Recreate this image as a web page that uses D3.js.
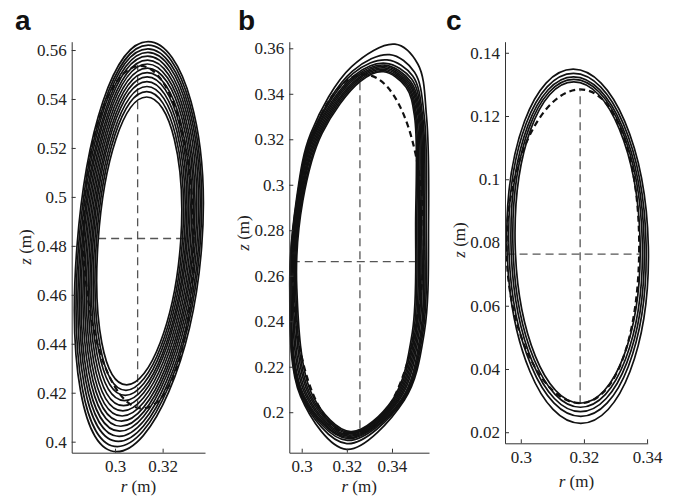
<!DOCTYPE html>
<html><head><meta charset="utf-8">
<script src="https://cdn.jsdelivr.net/npm/d3@7"></script>
<style>
body{margin:0;background:#fff}
text{font-family:"Liberation Serif","Times New Roman",Times,serif}
text.letter{font-family:"Liberation Sans",Arial,Helvetica,sans-serif;font-weight:bold}
</style>
</head><body>
<svg id="chart" width="684" height="496"></svg>
<script>
// ---------- Panel a : 14 loops (inner -> outer): top, bottom and mid-height side points ----------
const aTopR   = [0.3133,0.3133,0.3134,0.3134,0.3135,0.3135,0.3136,0.3136,0.3137,0.3137,0.3138,0.3138,0.3139,0.3139];
const aTopZ   = [0.5408,0.5430,0.5451,0.5471,0.5490,0.5508,0.5526,0.5543,0.5559,0.5575,0.5590,0.5605,0.5620,0.5634];
const aBotR   = [0.3049,0.3046,0.3043,0.3040,0.3036,0.3033,0.3030,0.3027,0.3024,0.3020,0.3017,0.3014,0.3010,0.3007];
const aBotZ   = [0.4232,0.4210,0.4189,0.4168,0.4147,0.4126,0.4105,0.4084,0.4063,0.4043,0.4022,0.4001,0.3980,0.3959];
const aLeftR  = [0.2929,0.2922,0.2915,0.2908,0.2902,0.2895,0.2888,0.2881,0.2874,0.2867,0.2861,0.2854,0.2847,0.2840];
const aRightR = [0.3276,0.3283,0.3290,0.3297,0.3303,0.3310,0.3317,0.3324,0.3330,0.3337,0.3344,0.3351,0.3357,0.3364];
const aGuide  = [[0.3105,0.5535],[0.3330,0.4836],[0.3115,0.4136],[0.2868,0.4836]]; // top,right,bottom,left
const aCrossV = [0.3095, 0.4137, 0.5540];  // r, z0, z1
const aCrossH = [0.4830, 0.2929, 0.3306];  // z, r0, r1
const aTicksX = [0.30, 0.32];
const aTicksY = [0.40,0.42,0.44,0.46,0.48,0.50,0.52,0.54,0.56];

// ---------- Panel b : loops as point lists
// order: L, UL1, UL2, UL3, T, UR, R1, R2, LR1, LR2, B, LL
const bLoops = [
 [[0.2947,0.255],[0.2976,0.293],[0.3040,0.3226],[0.3221,0.3519],[0.3413,0.3618],[0.3515,0.3530],[0.3553,0.330],[0.3562,0.285],[0.3543,0.235],[0.3455,0.2054],[0.3199,0.1837],[0.2995,0.207]],
 [[0.2948,0.255],[0.2978,0.293],[0.3046,0.3226],[0.3225,0.3500],[0.3390,0.3572],[0.3500,0.3495],[0.3543,0.330],[0.3552,0.285],[0.3537,0.235],[0.3450,0.2054],[0.3200,0.1862],[0.2999,0.207]],
 [[0.2949,0.255],[0.2980,0.293],[0.3050,0.3226],[0.3228,0.3490],[0.3378,0.3549],[0.3492,0.3478],[0.3536,0.330],[0.3545,0.285],[0.3532,0.235],[0.3445,0.2054],[0.3202,0.1876],[0.3003,0.207]],
 [[0.2950,0.255],[0.2983,0.293],[0.3055,0.3226],[0.3232,0.3480],[0.3372,0.3534],[0.3487,0.3465],[0.3531,0.330],[0.3539,0.285],[0.3527,0.235],[0.3440,0.2054],[0.3205,0.1884],[0.3007,0.207]],
 [[0.2952,0.255],[0.2986,0.293],[0.3060,0.3226],[0.3236,0.3475],[0.3368,0.3526],[0.3482,0.3455],[0.3526,0.330],[0.3532,0.285],[0.3520,0.235],[0.3432,0.2054],[0.3207,0.1889],[0.3012,0.207]],
 [[0.2957,0.255],[0.2990,0.293],[0.3066,0.3226],[0.3241,0.3471],[0.3367,0.3520],[0.3478,0.3450],[0.3521,0.330],[0.3527,0.285],[0.3514,0.235],[0.3426,0.2054],[0.3209,0.1894],[0.3020,0.207]],
 [[0.2962,0.255],[0.2994,0.293],[0.3072,0.3226],[0.3246,0.3467],[0.3366,0.3514],[0.3474,0.3445],[0.3516,0.330],[0.3521,0.285],[0.3508,0.235],[0.3420,0.2054],[0.3211,0.1899],[0.3027,0.207]],
 [[0.2968,0.255],[0.2997,0.293],[0.3078,0.3226],[0.3250,0.3463],[0.3365,0.3508],[0.3470,0.3440],[0.3510,0.330],[0.3516,0.285],[0.3502,0.235],[0.3414,0.2054],[0.3213,0.1905],[0.3035,0.207]],
 [[0.2973,0.255],[0.3001,0.293],[0.3084,0.3226],[0.3255,0.3459],[0.3364,0.3502],[0.3466,0.3435],[0.3505,0.330],[0.3510,0.285],[0.3496,0.235],[0.3408,0.2054],[0.3215,0.1910],[0.3042,0.207]],
 [[0.2978,0.255],[0.3005,0.293],[0.3090,0.3226],[0.3260,0.3455],[0.3363,0.3497],[0.3462,0.3430],[0.3500,0.330],[0.3505,0.285],[0.3490,0.235],[0.3402,0.2054],[0.3217,0.1915],[0.3050,0.207]]
];
const bGuide  = [[0.3275,0.3485],[0.3540,0.2695],[0.3228,0.1900],[0.2962,0.2695]];
const bCrossV = [0.3258, 0.1930, 0.3470];
const bCrossH = [0.2662, 0.2956, 0.3509];
const bTicksX = [0.30, 0.32, 0.34];
const bTicksY = [0.20,0.22,0.24,0.26,0.28,0.30,0.32,0.34,0.36];

// ---------- Panel c : 5 loops (inner -> outer) ----------
const cTopR   = [0.3168,0.3168,0.3167,0.3167,0.3166];
const cTopZ   = [0.1308,0.1316,0.1324,0.1335,0.1348];
const cBotR   = [0.3188,0.3189,0.3189,0.3190,0.3190];
const cBotZ   = [0.0292,0.0279,0.0265,0.0250,0.0228];
const cLeftR  = [0.2982,0.2975,0.2969,0.2962,0.2956];
const cRightR = [0.3378,0.3385,0.3391,0.3397,0.3404];
const cGuide  = [[0.3188,0.1284],[0.3375,0.0788],[0.3188,0.0292],[0.2955,0.0788]];
const cCrossV = [0.3188, 0.0292, 0.1284];
const cCrossH = [0.0763, 0.2955, 0.3375];
const cTicksX = [0.30, 0.32, 0.34];
const cTicksY = [0.02,0.04,0.06,0.08,0.10,0.12,0.14];

const panelLabels = ["a","b","c"];

// ---------- drawing ----------
const svg = d3.select("#chart");
const fmt = d => (+d.toFixed(2)).toString();
// cardinal spline through the ends of two conjugate diameters ~ ellipse
const ellipseCurve = d3.curveCardinalClosed.tension(-0.657);

function quadLoops(tr,tz,br,bz,lr,rr){
  return tr.map((_,i)=>{
    const zm = (tz[i]+bz[i])/2;
    return [[tr[i],tz[i]],[rr[i],zm],[br[i],bz[i]],[lr[i],zm]];
  });
}

function drawPanel(p){
  const x = d3.scaleLinear().domain(p.xd).range(p.xr);
  const y = d3.scaleLinear().domain(p.yd).range(p.yr);
  const g = svg.append("g");
  g.append("path")
    .attr("d", d3.line().x(d=>x(d[0])).y(d=>y(d[1])).curve(ellipseCurve)(p.guide))
    .attr("fill","none").attr("stroke","#111").attr("stroke-width",2.2)
    .attr("stroke-dasharray","6,4");
  g.append("line").attr("x1",x(p.cv[0])).attr("x2",x(p.cv[0]))
    .attr("y1",y(p.cv[1])).attr("y2",y(p.cv[2]))
    .attr("stroke","#555").attr("stroke-width",1.3).attr("stroke-dasharray","8,5");
  g.append("line").attr("y1",y(p.ch[0])).attr("y2",y(p.ch[0]))
    .attr("x1",x(p.ch[1])).attr("x2",x(p.ch[2]))
    .attr("stroke","#555").attr("stroke-width",1.3).attr("stroke-dasharray","8,5");
  const line = d3.line().x(d=>x(d[0])).y(d=>y(d[1])).curve(p.curve);
  g.selectAll("path.loop").data(p.loops).join("path").attr("class","loop")
    .attr("d", line).attr("fill","none").attr("stroke","#111").attr("stroke-width",1.7);
  const ax = g.append("g").attr("transform",`translate(0,${p.yr[0]})`)
    .call(d3.axisBottom(x).tickValues(p.tx).tickFormat(fmt).tickSize(-4).tickSizeOuter(0));
  const ay = g.append("g").attr("transform",`translate(${p.xr[0]},0)`)
    .call(d3.axisLeft(y).tickValues(p.ty).tickFormat(fmt).tickSize(-4).tickSizeOuter(0).tickPadding(5));
  [ax,ay].forEach(a=>{
    a.attr("font-family",null).attr("font-size",null);
    a.selectAll("path,line").attr("stroke","#333");
    a.selectAll("text").style("font-size","17px").attr("fill","#222");
  });
  ax.selectAll("text").attr("y",19.5).attr("dy",null);
  const t1 = g.append("text").attr("x",(p.xr[0]+p.xr[1])/2).attr("y",p.xty)
    .attr("text-anchor","middle").style("font-size","17px").attr("fill","#222");
  t1.append("tspan").attr("font-style","italic").text("r");
  t1.append("tspan").text(" (m)");
  const t2 = g.append("text").attr("transform",`translate(${p.ylx},${p.yly}) rotate(-90)`)
    .attr("text-anchor","middle").style("font-size","17px").attr("fill","#222");
  t2.append("tspan").attr("font-style","italic").text("z");
  t2.append("tspan").text(" (m)");
  svg.append("text").attr("class","letter").attr("x",p.lx).attr("y",30).text(p.label)
    .style("font-size","28px").attr("fill","#111");
}

drawPanel({label:panelLabels[0], lx:15, xd:[0.2818,0.3378], yd:[0.3955,0.5634], xr:[71.7,205], yr:[452.7,41.7],
  loops: quadLoops(aTopR,aTopZ,aBotR,aBotZ,aLeftR,aRightR), curve: ellipseCurve,
  guide:aGuide, cv:aCrossV, ch:aCrossH, tx:aTicksX, ty:aTicksY, ylx:31, yly:247, xty:491.5});
drawPanel({label:panelLabels[1], lx:238, xd:[0.2945,0.3564], yd:[0.1822,0.3629], xr:[289.3,429], yr:[452.7,41.7],
  loops: bLoops, curve: d3.curveCatmullRomClosed.alpha(0.5),
  guide:bGuide, cv:bCrossV, ch:bCrossH, tx:bTicksX, ty:bTicksY, ylx:249, yly:233, xty:491.5});
drawPanel({label:panelLabels[2], lx:446, xd:[0.2950,0.3402], yd:[0.0165,0.1435], xr:[505,647.7], yr:[443.3,41.7],
  loops: quadLoops(cTopR,cTopZ,cBotR,cBotZ,cLeftR,cRightR), curve: ellipseCurve,
  guide:cGuide, cv:cCrossV, ch:cCrossH, tx:cTicksX, ty:cTicksY, ylx:465, yly:240, xty:487});
</script>
</body></html>
